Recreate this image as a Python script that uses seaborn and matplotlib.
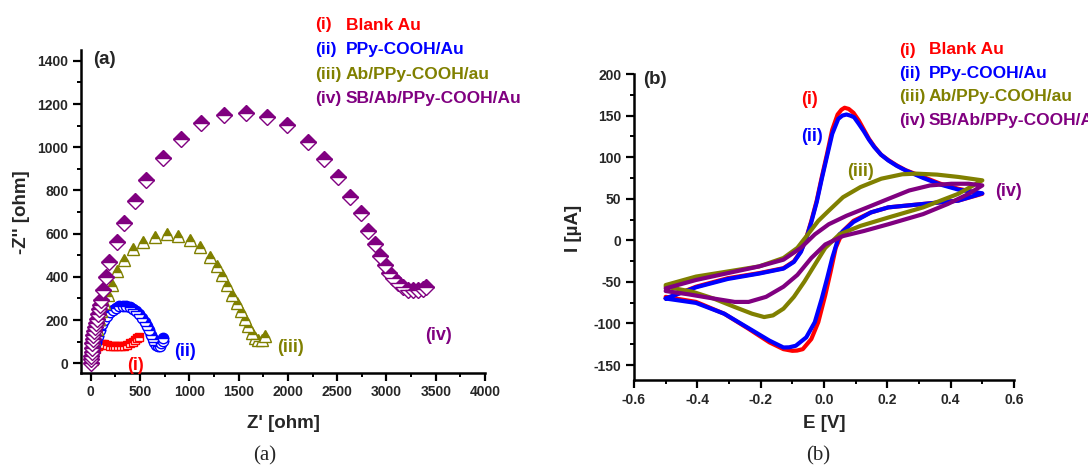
import numpy as np
import pandas as pd
import seaborn as sns
import matplotlib.pyplot as plt
from matplotlib.ticker import MultipleLocator

sns.set_style('ticks')
plt.rcParams['font.family'] = ['Liberation Sans', 'DejaVu Sans']
plt.rcParams['font.weight'] = 'bold'
plt.rcParams['axes.unicode_minus'] = False

colors = ['#ff0000', '#0000ff', '#808000', '#800080']
nums = ['(i)', '(ii)', '(iii)', '(iv)']
names = ['Blank Au', 'PPy-COOH/Au', 'Ab/PPy-COOH/au', 'SB/Ab/PPy-COOH/Au']

# (a) Nyquist, Z' and -Z'' in ohm
zre_i = [5, 12, 22, 35, 50, 68, 88, 110, 135, 160, 190, 220, 250, 280, 310, 340, 370, 400, 425, 450, 470, 485]
zim_i = [0, 18, 38, 55, 68, 78, 85, 88, 88, 85, 82, 80, 78, 78, 79, 82, 86, 93, 100, 108, 116, 123]

zre_ii = [5, 12, 22, 35, 50, 68, 88, 110, 135, 160, 190, 220, 255, 290, 325, 360, 395, 430, 462, 492,
          520, 545, 568, 590, 610, 628, 645, 662, 680, 698, 715, 728, 736]
zim_ii = [0, 20, 45, 72, 100, 128, 155, 180, 202, 220, 236, 248, 258, 264, 266, 265, 260, 252, 240, 226,
          210, 192, 172, 152, 132, 114, 98, 86, 80, 82, 92, 105, 118]

zre_iii = [7, 14, 34, 58, 81, 108, 135, 170, 210, 261, 338, 430, 531, 650, 768, 886, 1005, 1107, 1208, 1276,
           1327, 1378, 1428, 1479, 1523, 1563, 1597, 1631, 1665, 1699, 1733, 1766]
zim_iii = [18, 64, 111, 157, 203, 241, 280, 318, 364, 425, 479, 528, 563, 586, 599, 590, 571, 537, 491, 448,
           410, 364, 318, 279, 241, 203, 172, 141, 118, 107, 106, 126]

zre_iv = [0, 2, 4, 7, 10, 14, 19, 24, 32, 41, 50, 58, 70, 81, 95, 108, 128, 149, 186, 261, 338, 447, 555, 728,
          914, 1117, 1354, 1570, 1790, 1993, 2206, 2369, 2511, 2629, 2741, 2815, 2883, 2934, 2985, 3029, 3069,
          3120, 3171, 3222, 3272, 3323, 3370, 3405]
zim_iv = [3, 18, 34, 52, 72, 92, 111, 130, 149, 168, 187, 206, 226, 250, 272, 295, 340, 399, 471, 563, 651, 752,
          848, 952, 1040, 1112, 1147, 1158, 1142, 1101, 1024, 944, 863, 771, 697, 610, 553, 497, 456, 418, 395,
          372, 353, 341, 338, 341, 346, 352]

# (b) CV, E in V and I in uA (forward scan then reverse scan)
e_i = [-0.5, -0.404, -0.304, -0.205, -0.128, -0.095, -0.073, -0.056, -0.040, -0.023, -0.007, 0.010, 0.026,
       0.043, 0.055, 0.065, 0.078, 0.093, 0.11, 0.126, 0.142, 0.159, 0.18, 0.203, 0.23, 0.258, 0.313, 0.368,
       0.424, 0.5,
       0.424, 0.313, 0.203, 0.148, 0.093, 0.06, 0.037, 0.021, 0.004, -0.018, -0.04, -0.067, -0.085, -0.1,
       -0.128, -0.172, -0.238, -0.315, -0.404, -0.5]
i_i = [-70, -55.8, -45.6, -39.5, -33.5, -25.3, -13.2, 3, 23.4, 47.7, 76, 104.6, 133,
       151.3, 157, 159.4, 158, 153.3, 144, 133, 122, 112.7, 103, 96.5, 90, 84.3, 76.2, 68,
       62, 55.9,
       47.7, 43.7, 39.6, 33.5, 23.4, 11.2, -9.1, -37.5, -65.9, -98.4, -118.7, -130.9, -132.6, -132.9,
       -130.9, -122.8, -106.5, -88.3, -74.1, -68]

e_ii = [-0.5, -0.404, -0.304, -0.205, -0.128, -0.095, -0.073, -0.056, -0.040, -0.023, -0.007, 0.010, 0.026,
        0.045, 0.058, 0.071, 0.083, 0.095, 0.11, 0.126, 0.142, 0.159, 0.18, 0.203, 0.23, 0.258, 0.313, 0.368,
        0.424, 0.5,
        0.424, 0.313, 0.203, 0.148, 0.093, 0.049, 0.026, 0.010, -0.007, -0.029, -0.056, -0.089, -0.11,
        -0.128, -0.172, -0.238, -0.315, -0.404, -0.5]
i_ii = [-70, -56.5, -46.5, -40, -34, -26, -14, 2, 22, 46, 74, 102, 128,
        146, 150, 151.3, 150, 148, 140, 131, 121, 112, 103, 96, 89.5, 84, 75, 67,
        61, 56.5,
        47.7, 43.7, 39.6, 33.5, 22, 7.2, -21.3, -45.6, -70, -98.4, -116.7, -126.8, -128.7,
        -128.9, -120.7, -105.7, -88.3, -75.3, -70]

e_iii = [-0.5, -0.404, -0.304, -0.205, -0.128, -0.084, -0.051, -0.018, 0.015, 0.06, 0.115, 0.181, 0.247,
         0.291, 0.357, 0.424, 0.5,
         0.424, 0.313, 0.203, 0.115, 0.049, 0.004, -0.029, -0.062, -0.095, -0.128, -0.161, -0.189, -0.227,
         -0.282, -0.349, -0.415, -0.5]
i_iii = [-53.8, -43.6, -37.5, -31.4, -21.3, -9.1, 7.1, 23.4, 35.6, 51.8, 64, 74.1, 79.4,
         80.2, 79, 76.2, 72.1,
         55.9, 39.6, 27.4, 17.3, 7.2, -9.1, -29.4, -49.7, -68, -82.2, -90.3, -92.3, -88.3,
         -80.2, -70, -61.9, -55.8]

e_iv = [-0.5, -0.404, -0.304, -0.205, -0.128, -0.073, -0.029, 0.015, 0.071, 0.137, 0.203, 0.269, 0.335,
        0.402, 0.457, 0.5,
        0.457, 0.391, 0.313, 0.203, 0.126, 0.06, 0.004, -0.04, -0.084, -0.128, -0.183, -0.238, -0.282,
        -0.349, -0.426, -0.5]
i_iv = [-57.8, -47.7, -39.5, -31.4, -23.3, -9.1, 7.1, 19.3, 29.5, 39.6, 49.8, 59.9, 66,
        68, 68, 66,
        55.9, 43.7, 31.5, 19.3, 11.2, 5.1, -5, -21.3, -41.6, -55.8, -68, -74.1, -74.1,
        -70, -65.1, -61]

W, H = 1088, 468
fig = plt.figure(figsize=(W / 100, H / 100), dpi=100)


def fx(px):
    return px / W


def fy(py):
    return 1 - py / H


ax1 = fig.add_axes([fx(81), fy(373), (485 - 81) / W, (373 - 50) / H])
ax2 = fig.add_axes([fx(634), fy(380), (1014 - 634) / W, (380 - 74) / H])

# Nyquist plot
nyq = [(zre_i, zim_i, 's', 6), (zre_ii, zim_ii, 'o', 7.5), (zre_iii, zim_iii, '^', 9), (zre_iv, zim_iv, 'D', 8)]
for (x, y, mk, ms), c in zip(nyq, colors):
    sns.lineplot(x=x, y=y, ax=ax1, sort=False, estimator=None, linestyle='', marker=mk, markersize=ms,
                 color=c, markerfacecolor=c, markerfacecoloralt='white', fillstyle='top',
                 markeredgecolor=c, markeredgewidth=1.0, legend=False)

ax1.set_xlim(-100, 4000)
ax1.set_ylim(-45, 1450)
ax1.xaxis.set_major_locator(MultipleLocator(500))
ax1.xaxis.set_minor_locator(MultipleLocator(250))
ax1.yaxis.set_major_locator(MultipleLocator(200))
ax1.yaxis.set_minor_locator(MultipleLocator(100))

# CV plot
cv = [(e_i, i_i), (e_ii, i_ii), (e_iii, i_iii), (e_iv, i_iv)]
for (x, y), c in zip(cv, colors):
    sns.lineplot(x=x, y=y, ax=ax2, sort=False, estimator=None, color=c, linewidth=3, legend=False)

ax2.set_xlim(-0.6, 0.6)
ax2.set_ylim(-168, 200)
ax2.xaxis.set_major_locator(MultipleLocator(0.2))
ax2.xaxis.set_minor_locator(MultipleLocator(0.1))
ax2.yaxis.set_major_locator(MultipleLocator(50))
ax2.yaxis.set_minor_locator(MultipleLocator(25))
ax2.set_xticks(ax2.get_xticks())
ax2.set_xticklabels([f'{v:.1f}' for v in ax2.get_xticks()])
ax2.set_xlim(-0.6, 0.6)

for ax in (ax1, ax2):
    sns.despine(ax=ax)
    for s in ('left', 'bottom'):
        ax.spines[s].set_linewidth(1.8)
        ax.spines[s].set_color('black')
    ax.tick_params(which='major', length=5.5, width=1.6, labelsize=10, color='black', direction='out')
    ax.tick_params(which='minor', length=3, width=1.4, color='black', direction='out')
    for lab in ax.get_xticklabels() + ax.get_yticklabels():
        lab.set_fontweight('bold')
    ax.set_xlabel('')
    ax.set_ylabel('')

# axis labels
fig.text(fx(283), fy(423), "Z' [ohm]", ha='center', va='center', fontsize=13.5, fontweight='bold')
fig.text(fx(22), fy(212), "-Z'' [ohm]", ha='center', va='center', rotation=90, fontsize=13.5, fontweight='bold')
fig.text(fx(824), fy(423), "E [V]", ha='center', va='center', fontsize=13.5, fontweight='bold')
fig.text(fx(573), fy(228), "I [\u00b5A]", ha='center', va='center', rotation=90, fontsize=13.5, fontweight='bold')

# panel tags
fig.text(fx(93), fy(60), '(a)', ha='left', va='center', fontsize=13.5, fontweight='bold')
fig.text(fx(643), fy(80), '(b)', ha='left', va='center', fontsize=13.5, fontweight='bold')

# captions
fig.text(fx(265), fy(456), '(a)', ha='center', va='center', fontsize=15, fontweight='normal',
         family=['Liberation Serif', 'DejaVu Serif'])
fig.text(fx(818), fy(456), '(b)', ha='center', va='center', fontsize=15, fontweight='normal',
         family=['Liberation Serif', 'DejaVu Serif'])

# legends as coloured text (the right one runs off the edge as in the original)
for k in range(4):
    fig.text(fx(315), fy(25 + 24.5 * k), nums[k], color=colors[k], ha='left', va='center', fontsize=12.5, fontweight='bold')
    fig.text(fx(346), fy(25 + 24.5 * k), names[k], color=colors[k], ha='left', va='center', fontsize=12.5, fontweight='bold')
    fig.text(fx(899), fy(50 + 23.5 * k), nums[k], color=colors[k], ha='left', va='center', fontsize=12.5, fontweight='bold')
    fig.text(fx(929), fy(50 + 23.5 * k), names[k], color=colors[k], ha='left', va='center', fontsize=12.5, fontweight='bold')

# curve tags
tags_a = [(136, 366), (185, 352), (291, 347), (438, 335)]
tags_b = [(809, 99), (812, 136), (860, 171), (1008, 191)]
for k in range(4):
    fig.text(fx(tags_a[k][0]), fy(tags_a[k][1]), nums[k], color=colors[k], ha='center', va='center',
             fontsize=13, fontweight='bold')
    fig.text(fx(tags_b[k][0]), fy(tags_b[k][1]), nums[k], color=colors[k], ha='center', va='center',
             fontsize=13, fontweight='bold')

fig.savefig('out.png', dpi=100)
